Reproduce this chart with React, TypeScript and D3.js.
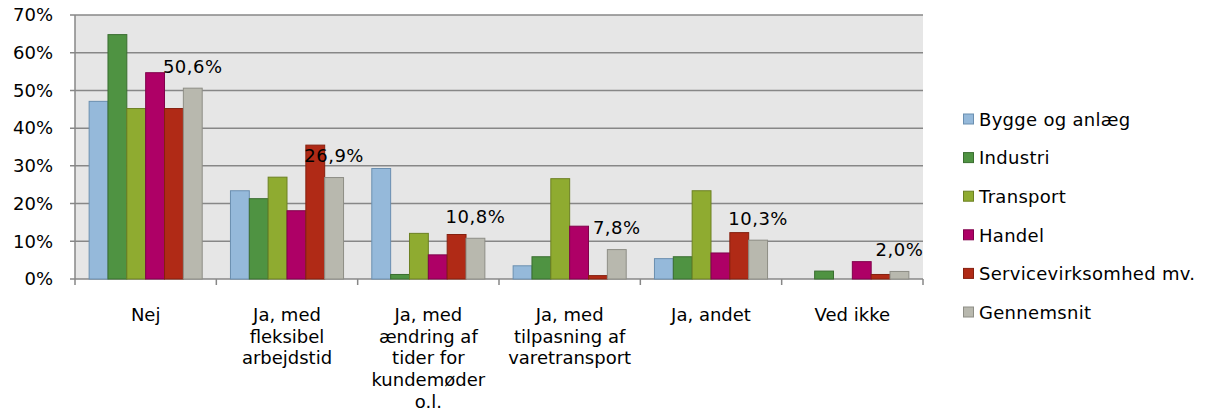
import React from 'react';
import * as d3 from 'd3';

const categories = ['Nej', 'Ja, med fleksibel arbejdstid', 'Ja, med ændring af tider for kundemøder o.l.', 'Ja, med tilpasning af varetransport', 'Ja, andet', 'Ved ikke'];
const categoryLines = [
  ['Nej'],
  ['Ja, med', 'fleksibel', 'arbejdstid'],
  ['Ja, med', 'ændring af', 'tider for', 'kundemøder', 'o.l.'],
  ['Ja, med', 'tilpasning af', 'varetransport'],
  ['Ja, andet'],
  ['Ved ikke'],
];
const seriesNames = ['Bygge og anlæg', 'Industri', 'Transport', 'Handel', 'Servicevirksomhed mv.', 'Gennemsnit'];
const bygge = [47.1, 23.4, 29.3, 3.5, 5.4, 0];
const industri = [64.8, 21.3, 1.2, 5.9, 5.9, 2.1];
const transport = [45.2, 27.0, 12.1, 26.6, 23.4, 0];
const handel = [54.7, 18.1, 6.4, 14.0, 6.9, 4.6];
const service = [45.2, 35.5, 11.8, 0.9, 12.3, 1.2];
const gennemsnit = [50.6, 26.9, 10.8, 7.8, 10.3, 2.0];
const yTicks = [0, 10, 20, 30, 40, 50, 60, 70];

const values = [bygge, industri, transport, handel, service, gennemsnit];
const fills = ['#95b9da', '#4f9342', '#8fab30', '#ae0066', '#b02a16', '#b8b8ae'];
const strokes = ['#6b8fb0', '#3a6e30', '#6c8022', '#80004b', '#85200f', '#8e8e86'];

const font = '"DejaVu Sans", Verdana, sans-serif';

export default function App() {
  const left = 75, right = 923, top = 15, bottom = 279;
  const x0 = d3.scaleBand<string>().domain(categories).range([left, right]).padding(0);
  const x1 = d3.scaleBand<string>().domain(seriesNames).range([0, x0.bandwidth()]).paddingInner(0).paddingOuter(0.75);
  const y = d3.scaleLinear().domain([0, 70]).range([bottom, top]);
  const fmt = (v: number) => v.toFixed(1).replace('.', ',') + '%';

  return (
    <svg width={1209} height={414} style={{ position: 'absolute', left: 0, top: 0, fontFamily: font }}>
      <rect x={left} y={top} width={right - left} height={bottom - top} fill="#e6e6e6" />
      {yTicks.map((t) => (
        <g key={t}>
          <line x1={left - 5} x2={right} y1={y(t)} y2={y(t)} stroke="#878787" strokeWidth={1.5} />
          <text x={53} y={y(t)} dy="0.35em" textAnchor="end" fontSize={18} fill="#000">{t}%</text>
        </g>
      ))}
      <line x1={left} x2={left} y1={top} y2={bottom} stroke="#878787" strokeWidth={1.5} />
      {categories.map((c, ci) =>
        values.map((vals, si) => {
          const v = vals[ci];
          const bx = (x0(c) as number) + (x1(seriesNames[si]) as number);
          const by = y(v);
          return (
            <rect key={c + si} x={bx} y={by} width={x1.bandwidth()} height={bottom - by}
              fill={fills[si]} stroke={strokes[si]} strokeWidth={1} />
          );
        })
      )}
      {[...categories.map((c) => x0(c) as number), right].map((tx, i) => (
        <line key={i} x1={tx} x2={tx} y1={bottom} y2={bottom + 6} stroke="#878787" strokeWidth={1.5} />
      ))}
      {categories.map((c, ci) => {
        const cx = (x0(c) as number) + (x1('Gennemsnit') as number) + x1.bandwidth() / 2;
        return (
          <text key={c + 'lbl'} x={cx} y={y(gennemsnit[ci]) - 15.5} textAnchor="middle" fontSize={18} letterSpacing={0.5}>{fmt(gennemsnit[ci])}</text>
        );
      })}
      {categories.map((c, ci) => (
        <text key={c + 'cat'} x={(x0(c) as number) + x0.bandwidth() / 2} y={321} textAnchor="middle" fontSize={18}>
          {categoryLines[ci].map((ln, li) => (
            <tspan key={li} x={(x0(c) as number) + x0.bandwidth() / 2} y={321 + li * 21.7}>{ln}</tspan>
          ))}
        </text>
      ))}
      {seriesNames.map((s, i) => (
        <g key={s} transform={`translate(963,${119.5 + i * 38.6})`}>
          <rect x={0.5} y={-5.5} width={10} height={10} fill={fills[i]} stroke={strokes[i]} strokeWidth={1} />
          <text x={16} y={0} dy="0.35em" fontSize={18} letterSpacing={0.3}>{s}</text>
        </g>
      ))}
    </svg>
  );
}
